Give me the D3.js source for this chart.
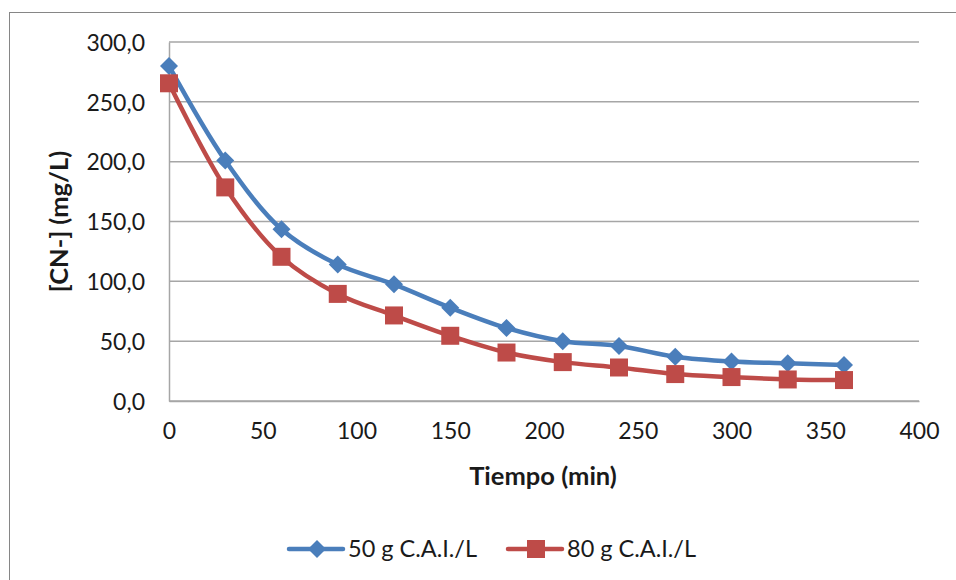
<!DOCTYPE html>
<html>
<head>
<meta charset="UTF-8">
<title>CN- vs Tiempo</title>
<script src="https://cdnjs.cloudflare.com/ajax/libs/d3/7.9.0/d3.min.js"></script>
<style>
    body { margin: 0; background: #fff; }
    svg text { font-family: Lato, "Open Sans", sans-serif; fill: #1a1a1a; }
</style>
</head>
<body>
<div id="chart"></div>
<script>
    // data
    const tiempo = [0, 30, 60, 90, 120, 150, 180, 210, 240, 270, 300, 330, 360];
    const serie50 = [280, 201, 143.5, 114, 97.5, 78, 61, 50, 46, 37, 33, 31.5, 30];
    const serie80 = [265.5, 178.5, 120.5, 89.5, 71.5, 54.5, 40.5, 32.5, 28, 22.5, 20, 18, 17.5];
    const seriesNames = ["50 g C.A.I./L", "80 g C.A.I./L"];
    const xTicks = [0, 50, 100, 150, 200, 250, 300, 350, 400];
    const yTicks = [0, 50, 100, 150, 200, 250, 300];

    const W = 956, H = 580;
    const plot = {left: 169, right: 919, top: 42, bottom: 401};

    const svg = d3.select("#chart").append("svg")
        .attr("width", W)
        .attr("height", H);

    // outer chart frame
    svg.append("rect")
        .attr("x", 9.5).attr("y", 12.5)
        .attr("width", W).attr("height", H)
        .attr("fill", "none")
        .attr("stroke", "#868686")
        .attr("stroke-width", 1);

    const x = d3.scaleLinear().domain([0, 400]).range([plot.left, plot.right]);
    const y = d3.scaleLinear().domain([0, 300]).range([plot.bottom, plot.top]);

    // gridlines
    svg.append("g")
        .selectAll("line")
        .data(yTicks)
        .join("line")
            .attr("x1", plot.left).attr("x2", plot.right)
            .attr("y1", d => y(d)).attr("y2", d => y(d))
            .attr("stroke", "#a6a6a6")
            .attr("stroke-width", 1.5);

    // axes
    const xAxis = d3.axisBottom(x).tickValues(xTicks).tickSize(0).tickPadding(22);
    const yAxis = d3.axisLeft(y).tickValues(yTicks).tickSize(0).tickPadding(24)
        .tickFormat(d => d3.format(".1f")(d).replace(".", ","));

    const gx = svg.append("g")
        .attr("transform", "translate(0," + plot.bottom + ")")
        .call(xAxis);
    const gy = svg.append("g")
        .attr("transform", "translate(" + plot.left + ",0)")
        .call(yAxis);

    [gx, gy].forEach(g => {
        g.select(".domain").attr("stroke", "#a6a6a6").attr("stroke-width", 1.5);
        g.selectAll("text")
            .attr("font-family", "Lato, sans-serif")
            .attr("font-size", 23)
            .attr("fill", "#1a1a1a");
    });
    gy.selectAll("text").attr("dy", "0.36em");

    // axis titles
    svg.append("text")
        .attr("x", (plot.left + plot.right) / 2 - 1)
        .attr("y", 485)
        .attr("text-anchor", "middle")
        .attr("font-size", 25.5)
        .attr("font-weight", "bold")
        .text("Tiempo (min)");

    svg.append("text")
        .attr("transform", "translate(68," + ((plot.top + plot.bottom) / 2) + ") rotate(-90)")
        .attr("text-anchor", "middle")
        .attr("font-size", 25.5)
        .attr("font-weight", "bold")
        .text("[CN-] (mg/L)");

    // series
    const colors = ["#4a7ebb", "#be4b48"];
    const allSeries = [serie50, serie80];

    const line = d3.line()
        .x((d, i) => x(tiempo[i]))
        .y(d => y(d))
        .curve(d3.curveCatmullRom.alpha(0.5));

    const diamond = s => "M0," + (-s) + "L" + s + ",0L0," + s + "L" + (-s) + ",0Z";
    const square = s => "M" + (-s) + "," + (-s) + "H" + s + "V" + s + "H" + (-s) + "Z";
    const markers = [diamond(9), square(9)];

    allSeries.forEach((vals, k) => {
        svg.append("path")
            .datum(vals)
            .attr("d", line)
            .attr("fill", "none")
            .attr("stroke", colors[k])
            .attr("stroke-width", 4.5)
            .attr("stroke-linejoin", "round");
    });

    allSeries.forEach((vals, k) => {
        svg.append("g")
            .selectAll("path")
            .data(vals)
            .join("path")
                .attr("transform", (d, i) => "translate(" + x(tiempo[i]) + "," + y(d) + ")")
                .attr("d", markers[k])
                .attr("fill", colors[k]);
    });

    // legend
    const legendX = [289, 508];
    const legendY = 549;
    seriesNames.forEach((name, k) => {
        const g = svg.append("g").attr("transform", "translate(" + legendX[k] + "," + legendY + ")");
        g.append("line")
            .attr("x1", 0).attr("x2", 54)
            .attr("stroke", colors[k])
            .attr("stroke-width", 4.5)
            .attr("stroke-linecap", "round");
        g.append("path")
            .attr("transform", "translate(28,0)")
            .attr("d", markers[k])
            .attr("fill", colors[k]);
        g.append("text")
            .attr("x", 59)
            .attr("dy", "0.36em")
            .attr("font-size", 23.5)
            .text(name);
    });
</script>
</body>
</html>
